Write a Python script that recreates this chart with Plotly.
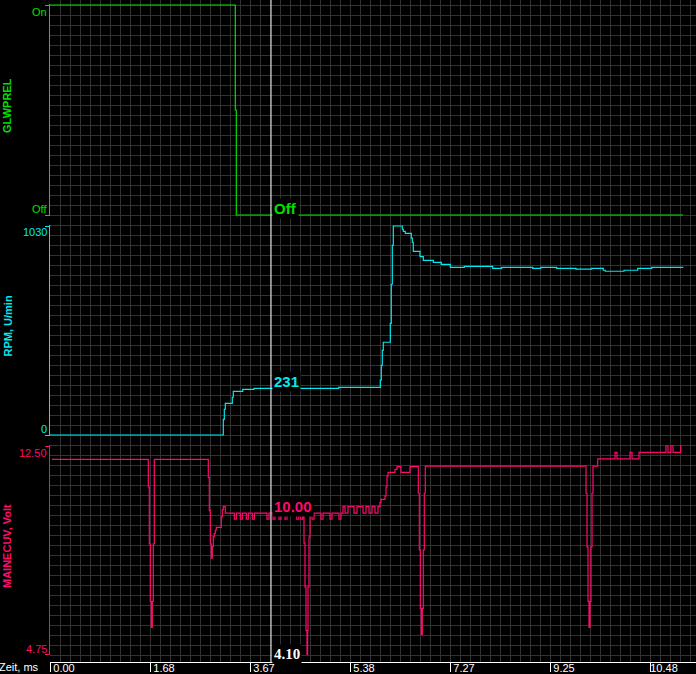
import plotly.graph_objects as go

# ---------------- data ----------------
x_tick_vals = [0, 100, 200, 300, 400, 500, 600]          # sample index
x_tick_text = ["0.00", "1.68", "3.67", "5.38", "7.27", "9.25", "10.48"]

cursor_idx = 221
cursor_time = "4.10"

# GLWPREL (1 = On, 0 = Off)
glw_x = [0, 185.3, 186.3, 633]
glw_y = [1, 0.5, 0, 0]

# RPM, U/min
rpm_x = [0, 173.3, 174.3, 175.3, 182.3, 183.3, 192.7, 204, 288.7, 330.3, 331.3, 332.3,
         333.3, 340.3, 341.3, 342.3, 343.3, 352.3, 353.3, 355.3, 361.3, 362.3, 363.3,
         370, 373.3, 383.3, 391.3, 400.3, 414.3, 442.7, 451.7, 482.7, 490.7, 506.7,
         526, 541.7, 553.3, 555.3, 574, 587.7, 601.7, 633.3]
rpm_y = [0, 77, 127, 156, 186, 215, 225, 230, 235, 270, 343, 417,
         457, 550, 743, 935, 1030, 1014, 1004, 994, 970, 950, 905,
         879, 861, 851, 841, 826, 831, 821, 826, 821, 826, 821,
         817, 821, 812, 807, 812, 821, 826, 826]

# MAINECUV, Volt
volt_x = [2, 98.3, 99.3, 100.3, 101.3, 102.3, 103.3, 104.3,
          158.3, 159.3, 160.3, 161.3, 162.3, 163.3, 164.3, 165.3, 166.3, 171.3, 172.3, 173.3, 175.3,
          184.3, 186.3, 190.3, 192.3, 196.3, 198.3, 202.3, 204.3,
          217, 219, 223, 225, 229, 231, 235, 237,
          246.7, 248.7, 250.7, 252.7,
          254, 255, 256, 257, 257.6, 258, 259, 260,
          262, 264, 271, 273, 280, 282, 289, 291,
          293, 295, 298, 304, 307, 313, 316, 319, 322, 325, 328, 330, 331, 335, 336, 337, 338,
          345, 347, 351, 360,
          368.3, 369.3, 370.3, 371.3, 372.3, 373.3, 374.3, 375.3,
          536, 537, 538, 539, 540, 541, 542, 543, 547.7,
          565, 567, 580, 582, 589,
          616, 618, 621, 623, 630.7, 632]
volt_y = [12.0, 10.98, 8.85, 6.71, 5.74, 6.71, 8.85, 12.0,
          11.33, 10.09, 8.85, 8.32, 8.75, 9.12, 9.24, 9.37, 9.47, 9.86, 10.12, 10.24, 10.0,
          9.77, 10.0, 9.77, 10.0, 9.77, 10.0, 9.77, 10.0,
          9.77, 10.0, 9.77, 10.0, 9.77, 10.0, 9.77, 10.0,
          9.77, 10.0, 9.77, 10.0,
          8.88, 7.25, 5.62, 4.56, 5.62, 7.25, 9.11, 10.0,
          9.77, 10.0, 9.77, 10.0, 9.77, 10.0, 9.77, 10.0,
          10.24, 10.0, 10.24, 10.0, 10.24, 10.0, 10.24, 10.0, 10.24, 10.0, 10.24, 10.39, 10.51,
          10.64, 10.98, 11.38, 11.52,
          11.63, 11.73, 11.52, 11.73,
          10.74, 8.63, 6.45, 5.48, 6.45, 8.63, 10.74, 11.75,
          10.74, 8.74, 6.71, 5.74, 6.71, 8.74, 10.74, 11.75, 12.02,
          12.26, 12.02, 12.26, 12.02, 12.26,
          12.51, 12.26, 12.51, 12.26, 12.51, 12.51]

cursor_glw = 0
cursor_glw_text = "Off"
cursor_rpm = 231
cursor_rpm_text = "231"
cursor_volt = 10.0
cursor_volt_text = "10.00"

# ---------------- style ----------------
GREEN = "#00e000"
CYAN = "#00e8f0"
PINK = "#ff0a6e"
GRID = "#323232"
FONT = "Liberation Sans"

W, H_FIG = 696, 674
ML, MB = 50, 12
H = H_FIG - MB  # plot area height in px


def dom(top_px, bot_px):
    return [(H - bot_px) / H, (H - top_px) / H]


fig = go.Figure()
# grid carrier subplot
fig.add_trace(go.Scatter(x=[], y=[], xaxis="x", yaxis="y", showlegend=False, hoverinfo="skip"))
fig.add_trace(go.Scatter(x=glw_x, y=glw_y, xaxis="x", yaxis="y2", mode="lines",
                         line=dict(color=GREEN, width=1.2, shape="hv"), showlegend=False))
fig.add_trace(go.Scatter(x=rpm_x, y=rpm_y, xaxis="x", yaxis="y3", mode="lines",
                         line=dict(color=CYAN, width=1.2, shape="hv"), showlegend=False))
fig.add_trace(go.Scatter(x=volt_x, y=volt_y, xaxis="x", yaxis="y4", mode="lines",
                         line=dict(color=PINK, width=1.2, shape="hv"), showlegend=False))


def panel_axis(color, top_px, bot_px, vmin, vmax):
    pad = (vmax - vmin) / (bot_px - top_px)
    return dict(domain=dom(top_px - 1, bot_px + 1), range=[vmin - pad, vmax + pad],
                anchor="x", showline=True, linecolor=color, linewidth=1,
                ticks="outside", ticklen=4, tickcolor=color, tickwidth=1,
                tickmode="array", tickvals=[vmin, vmax], showticklabels=False,
                showgrid=False, zeroline=False)


fig.update_layout(
    width=W, height=H_FIG,
    margin=dict(l=ML, r=0, t=0, b=MB, autoexpand=False),
    paper_bgcolor="black", plot_bgcolor="rgba(0,0,0,0)",
    showlegend=False,
    xaxis=dict(range=[0, W - ML], domain=[0, 1], anchor="y",
               tickmode="array", tickvals=x_tick_vals, ticktext=x_tick_text,
               ticks="outside", ticklen=9, tickcolor="white", tickwidth=1,
               showline=True, linecolor="white", linewidth=1,
               showgrid=True, gridcolor=GRID, gridwidth=1,
               minor=dict(tickmode="linear", tick0=0, dtick=10, showgrid=True,
                          gridcolor=GRID, gridwidth=1, ticks=""),
               tickfont=dict(family=FONT, size=11, color="white"),
               ticklabelshift=14, ticklabelstandoff=-13,
               zeroline=False, automargin=False),
    yaxis=dict(domain=[0, 1], range=[0, H], tickmode="linear", tick0=6.3, dtick=10,
               showgrid=True, gridcolor=GRID, gridwidth=1, showticklabels=False,
               ticks="", showline=False, zeroline=False),
    yaxis2=panel_axis(GREEN, 5, 215, 0, 1),
    yaxis3=panel_axis(CYAN, 226, 435, 0, 1030),
    yaxis4=panel_axis(PINK, 446, 654, 4.75, 12.5),
)

fig.add_shape(type="line", xref="x", yref="paper", x0=cursor_idx, x1=cursor_idx, y0=0, y1=1,
              line=dict(color="white", width=1), layer="above")

ann = []
# axis titles
for txt, yref, col in [("GLWPREL", "y2 domain", GREEN), ("RPM, U/min", "y3 domain", CYAN),
                       ("MAINECUV, Volt", "y4 domain", PINK)]:
    ann.append(dict(text="<b>%s</b>" % txt, xref="paper", x=0, xanchor="center", xshift=-43,
                    yref=yref, y=0.5, yanchor="middle", yshift=4, textangle=-90,
                    showarrow=False, font=dict(family=FONT, size=11, color=col)))
# axis end labels
for txt, yref, val, ys, col in [("On", "y2", 1, -7, GREEN), ("Off", "y2", 0, 6, GREEN),
                                ("1030", "y3", 1030, -6, CYAN), ("0", "y3", 0, 6, CYAN),
                                ("12.50", "y4", 12.5, -6.5, PINK), ("4.75", "y4", 4.75, 5, PINK)]:
    ann.append(dict(text=txt, xref="paper", x=0, xanchor="right", xshift=-1,
                    yref=yref, y=val, yanchor="middle", yshift=ys,
                    showarrow=False, font=dict(family=FONT, size=11, color=col)))
# cursor value labels
for txt, yref, val, col in [(cursor_glw_text, "y2", cursor_glw, GREEN),
                            (cursor_rpm_text, "y3", cursor_rpm, CYAN),
                            (cursor_volt_text, "y4", cursor_volt, PINK)]:
    ann.append(dict(text="<b>%s</b>" % txt, xref="x", x=cursor_idx, xanchor="left", xshift=1,
                    yref=yref, y=val, yanchor="bottom", yshift=-4, bgcolor="black",
                    borderpad=1, showarrow=False, font=dict(family=FONT, size=15, color=col)))
ann.append(dict(text="<b>%s</b>" % cursor_time, xref="x", x=cursor_idx, xanchor="left", xshift=1,
                yref="paper", y=0, yanchor="bottom", yshift=-2, bgcolor="black", borderpad=1,
                showarrow=False, font=dict(family="Liberation Serif", size=15, color="white")))
ann.append(dict(text="Zeit, ms", xref="paper", x=0, xanchor="right", xshift=-9,
                yref="paper", y=0, yanchor="middle", yshift=-5, showarrow=False,
                font=dict(family=FONT, size=11, color="white")))
fig.update_layout(annotations=ann)

fig.write_html("out.html",
               config={"displayModeBar": False},
               post_script="document.body.style.margin='0';document.body.style.padding='0';"
                           "document.body.style.background='black';"
                           "document.body.style.overflow='hidden';")
